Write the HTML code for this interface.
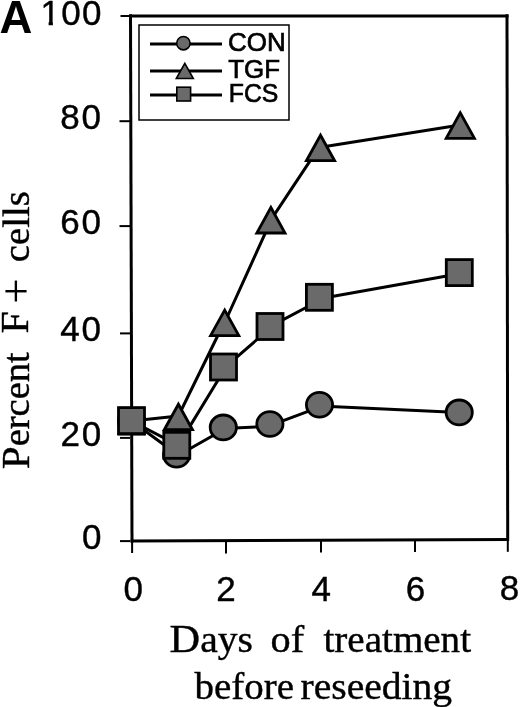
<!DOCTYPE html>
<html><head><meta charset="utf-8"><title>Percent F+ cells</title>
<style>
html,body{margin:0;padding:0;background:#fff;width:520px;height:707px;overflow:hidden}
svg{display:block}
.sans{font-family:"Liberation Sans",Arial,sans-serif}
.serif{font-family:"Liberation Serif","Times New Roman",serif}
</style></head><body>
<svg width="520" height="707" viewBox="0 0 520 707">
<!-- panel label -->
<text class="sans" x="-0.6" y="33" font-size="45.5" font-weight="bold" fill="#000">A</text>

<!-- y tick labels -->
<g class="sans" font-size="35" fill="#000" stroke="#000" stroke-width="0.4" text-anchor="end" letter-spacing="1.8">
<text x="102.7" y="24.6" letter-spacing="1.3">100</text>
<text x="102.7" y="129.2">80</text>
<text x="102.7" y="234">60</text>
<text x="102.7" y="341">40</text>
<text x="103" y="445.5">20</text>
<text x="103.2" y="549.3">0</text>
</g>

<!-- hide the foot serif of the "1" so it matches the Helvetica-style glyph -->
<rect x="40" y="21.3" width="8.6" height="6" fill="#fff"/>
<rect x="52.9" y="21.3" width="7" height="6" fill="#fff"/>

<!-- x tick labels -->
<g class="sans" font-size="35" fill="#000" stroke="#000" stroke-width="0.4" text-anchor="middle">
<text x="133.3" y="601">0</text>
<text x="226.1" y="601">2</text>
<text x="321.3" y="600.8">4</text>
<text x="415.5" y="600.6">6</text>
<text x="509.4" y="600.3">8</text>
</g>

<!-- axis titles -->
<g class="serif" font-size="37.4" fill="#000" stroke="#000" stroke-width="0.4">
<text x="169.6" y="651.8" textLength="83.3" lengthAdjust="spacingAndGlyphs"><tspan font-size="40">D</tspan>ays</text>
<text x="270.6" y="651.8" textLength="33.6" lengthAdjust="spacingAndGlyphs">of</text>
<text x="323.5" y="651.8" textLength="147.5" lengthAdjust="spacingAndGlyphs">treatment</text>
<text x="194.5" y="698.9" textLength="99.5" lengthAdjust="spacingAndGlyphs">before</text>
<text x="300.5" y="698.9" textLength="151.6" lengthAdjust="spacingAndGlyphs">reseeding</text>
<g transform="translate(28.8 0) rotate(-90)">
<text x="-469.3" y="0" textLength="117" lengthAdjust="spacingAndGlyphs"><tspan font-size="40">P</tspan>ercent</text>
<text x="-333.6" y="-0.8" font-size="40">F</text>
<text x="-303.8" y="2.1" font-size="44.5" stroke-width="0.1">+</text>
<text x="-262.3" y="0" textLength="71.1" lengthAdjust="spacingAndGlyphs">cells</text>
</g>
</g>

<!-- frame & ticks -->
<g stroke="#000" fill="none" stroke-linecap="butt">
<line x1="130.5" y1="14.3" x2="132" y2="542.5" stroke-width="3"/>
<line x1="129.5" y1="16.1" x2="508.5" y2="16.1" stroke-width="3"/>
<line x1="507" y1="14.3" x2="507.7" y2="541" stroke-width="3"/>
<line x1="130.5" y1="541" x2="509" y2="539.4" stroke-width="3"/>
<g stroke-width="2">
<line x1="120.5" y1="16" x2="130" y2="16"/>
<line x1="119.5" y1="121.2" x2="130" y2="121.2"/>
<line x1="119.5" y1="226.1" x2="130" y2="226.1"/>
<line x1="120" y1="333.4" x2="130" y2="333.4"/>
<line x1="120" y1="437.9" x2="130" y2="437.9"/>
<line x1="120" y1="541.1" x2="130" y2="541.1"/>
<line x1="132.1" y1="541" x2="132.1" y2="553"/>
<line x1="226" y1="541" x2="226" y2="553.4"/>
<line x1="321" y1="540" x2="321" y2="552.5"/>
<line x1="415" y1="540" x2="415" y2="552"/>
<line x1="507.8" y1="540" x2="507.8" y2="551.8"/>
</g>
</g>

<!-- legend -->
<rect x="139" y="25" width="150" height="95" fill="#fff" stroke="#000" stroke-width="1.5"/>
<g stroke="#000" stroke-width="2.8">
<line x1="150" y1="44" x2="222" y2="44"/>
<line x1="150" y1="71" x2="222" y2="71"/>
<line x1="150" y1="95" x2="222" y2="95"/>
</g>
<g fill="#6a6a6a" stroke="#000" stroke-width="1.6">
<circle cx="183.4" cy="43.2" r="6.7"/>
<polygon points="184.8,63.3 176.3,78.5 193.3,78.5"/>
<rect x="176.8" y="87.2" width="13.8" height="13.8"/>
</g>
<g class="sans" font-size="26.5" fill="#000" stroke="#000" stroke-width="0.7">
<text x="228" y="51.3" textLength="57.6" lengthAdjust="spacingAndGlyphs">CON</text>
<text x="228.3" y="77.5" textLength="51.8" lengthAdjust="spacingAndGlyphs">TGF</text>
<text x="228.8" y="101.8" textLength="49.6" lengthAdjust="spacingAndGlyphs">FCS</text>
</g>

<!-- data lines -->
<g fill="none" stroke="#000" stroke-width="3" stroke-linecap="round">
<!-- CON -->
<line x1="131.5" y1="421" x2="176.6" y2="454"/>
<line x1="176.6" y1="456.3" x2="223.3" y2="429.7"/>
<line x1="223.3" y1="428.4" x2="269.9" y2="426.3"/>
<line x1="269.9" y1="425.7" x2="319.5" y2="407.1"/>
<line x1="319.5" y1="405.9" x2="459.2" y2="412.6"/>
<!-- TGF -->
<line x1="131.5" y1="421" x2="178.4" y2="416"/>
<line x1="178.4" y1="416" x2="224.7" y2="321.5"/>
<line x1="225.2" y1="321.5" x2="271.4" y2="219.6"/>
<line x1="271.1" y1="219.6" x2="319.0" y2="147.3"/>
<line x1="320.5" y1="147.3" x2="460.3" y2="124.9"/>
<!-- FCS -->
<line x1="131.5" y1="421" x2="176.8" y2="444.7"/>
<line x1="178.1" y1="445.6" x2="226" y2="367"/>
<line x1="223.5" y1="368.7" x2="270" y2="328.2"/>
<line x1="270" y1="326.7" x2="319.4" y2="300.5"/>
<line x1="319.4" y1="298.7" x2="459.3" y2="273.8"/>
</g>

<!-- markers -->
<g fill="#6a6a6a" stroke="#000" stroke-width="2.8" stroke-linejoin="miter">
<ellipse cx="131.5" cy="421" rx="13.1" ry="12.4"/>
<ellipse cx="176.6" cy="454.8" rx="13.1" ry="12.4"/>
<ellipse cx="223.3" cy="427.4" rx="13.1" ry="12.4"/>
<ellipse cx="269.9" cy="424" rx="13.1" ry="12.4"/>
<ellipse cx="319.5" cy="404.8" rx="13.1" ry="12.4"/>
<ellipse cx="459.2" cy="412.4" rx="13.1" ry="12.4"/>
<polygon points="178.4,404.2 164.3,429.7 192.5,429.7"/>
<polygon points="224.7,310.1 210.6,335.6 238.8,335.6"/>
<polygon points="270.9,207.5 256.8,233.0 285.0,233.0"/>
<polygon points="320.5,135.2 306.4,160.7 334.6,160.7"/>
<polygon points="460.3,112.8 446.2,138.3 474.4,138.3"/>
<rect x="118.5" y="407.6" width="26" height="26"/>
<rect x="117.4" y="433.6" width="28.4" height="2" fill="#000" stroke="none"/>
<rect x="163.8" y="432.3" width="26" height="26"/>
<rect x="210.5" y="354.0" width="26" height="26"/>
<rect x="257.0" y="313.5" width="26" height="26"/>
<rect x="306.4" y="284.3" width="26" height="26"/>
<rect x="446.3" y="259.6" width="26" height="26"/>
</g>
</svg>
</body></html>
